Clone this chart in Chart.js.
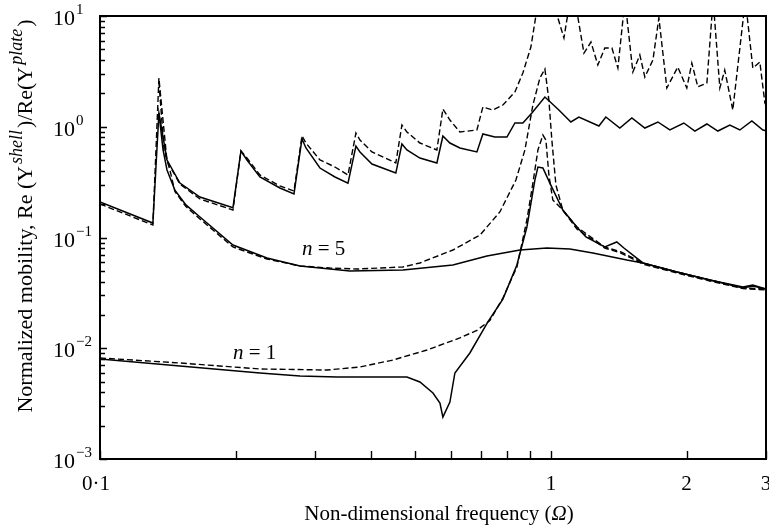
<!DOCTYPE html>
<html>
<head>
<meta charset="utf-8">
<script src="https://cdn.jsdelivr.net/npm/chart.js@4.4.0/dist/chart.umd.min.js"></script>
<style>
  body { margin: 0; background: #fff; }
  #wrap { width: 769px; height: 526px; }
</style>
</head>
<body>
<div id="wrap"><canvas id="chart"></canvas></div>
<script>
// axis ticks
const xTickValues = [0.1, 0.2, 0.3, 0.4, 0.5, 0.6, 0.7, 0.8, 0.9, 1, 2, 3];
const xTickLabels = { 0.1: '0·1', 1: '1', 2: '2', 3: '3' };
const yExponents = [-3, -2, -1, 0, 1];

// total response, solid
const sumSolidW = [0.1, 0.131, 0.1351, 0.1408, 0.1504, 0.1666, 0.1972, 0.2054, 0.2118, 0.2263, 0.2506, 0.2693, 0.2805, 0.2863, 0.3075, 0.332, 0.3548, 0.3695, 0.3772, 0.401, 0.453, 0.4673, 0.4794, 0.5123, 0.5587, 0.5761, 0.5971, 0.6284, 0.6854, 0.7066, 0.751, 0.799, 0.8322, 0.8667, 0.9076, 0.9699, 1.0416, 1.1074, 1.1537, 1.278, 1.324, 1.422, 1.512, 1.616, 1.727, 1.836, 1.972, 2.086, 2.218, 2.346, 2.494, 2.625, 2.791, 2.953, 3.0];
const sumSolidY = [0.209, 0.135, 1.33, 0.501, 0.31, 0.232, 0.186, 0.604, 0.501, 0.352, 0.28, 0.247, 0.775, 0.643, 0.424, 0.352, 0.31, 0.67, 0.592, 0.461, 0.382, 0.699, 0.617, 0.522, 0.471, 0.825, 0.713, 0.643, 0.592, 0.86, 0.808, 0.808, 1.081, 1.081, 1.331, 1.856, 1.416, 1.104, 1.225, 1.016, 1.225, 0.974, 1.2, 0.974, 1.104, 0.935, 1.081, 0.915, 1.059, 0.915, 1.037, 0.935, 1.127, 0.935, 0.92];

// total response, dashed
const sumDashW = [0.1, 0.131, 0.1351, 0.1408, 0.1504, 0.1666, 0.1972, 0.2054, 0.2118, 0.2263, 0.2506, 0.2693, 0.2805, 0.2863, 0.3075, 0.332, 0.3548, 0.3695, 0.3772, 0.401, 0.453, 0.4673, 0.4794, 0.5123, 0.5587, 0.5761, 0.5971, 0.6284, 0.6854, 0.7066, 0.7437, 0.7826, 0.8322, 0.8667, 0.903, 0.9262, 0.95, 1.0, 1.026, 1.069, 1.10, 1.142, 1.184, 1.227, 1.271, 1.317, 1.366, 1.408, 1.46, 1.52, 1.575, 1.616, 1.684, 1.736, 1.808, 1.912, 2.002, 2.054, 2.118, 2.218, 2.29, 2.37, 2.43, 2.532, 2.70, 2.805, 2.907, 2.983, 3.0];
const sumDashY = [0.2007, 0.1297, 2.75, 0.491, 0.304, 0.2227, 0.177, 0.604, 0.522, 0.367, 0.292, 0.263, 0.825, 0.713, 0.501, 0.433, 0.367, 0.878, 0.759, 0.592, 0.471, 1.037, 0.897, 0.713, 0.617, 1.446, 1.15, 0.897, 0.935, 1.507, 1.416, 1.57, 2.06, 3.06, 5.25, 10, 14, 18, 11, 6.33, 13, 11, 4.62, 5.82, 3.61, 5.14, 5.14, 3.39, 14, 3.12, 4.45, 2.81, 4.01, 9.6, 2.24, 3.46, 2.24, 3.76, 2.29, 2.48, 14, 2.24, 3.25, 1.416, 14, 3.39, 3.84, 1.64, 1.57];

// n = 5, solid and dashed
const n5SolidW = [0.1351, 0.138, 0.1408, 0.1466, 0.1551, 0.1666, 0.1972, 0.2346, 0.2777, 0.3583, 0.4697, 0.6063, 0.7214, 0.8537, 0.9797, 1.102, 1.239, 1.474, 1.6, 1.903, 2.252, 2.666, 2.805, 3.0];
const n5SolidY = [1.331, 0.617, 0.407, 0.268, 0.197, 0.1532, 0.0856, 0.0653, 0.0553, 0.0498, 0.0509, 0.0565, 0.0681, 0.0771, 0.0804, 0.0787, 0.0724, 0.0626, 0.0589, 0.0488, 0.0413, 0.035, 0.0365, 0.0343];
const n5DashW = [0.1351, 0.1387, 0.1429, 0.1466, 0.1551, 0.1666, 0.1972, 0.2346, 0.2777, 0.3236, 0.3715, 0.4697, 0.5123, 0.6063, 0.6962, 0.7706, 0.8364, 0.8758, 0.9122, 0.9454, 0.9699, 0.9899, 1.005, 1.026, 1.063, 1.142, 1.317, 1.43, 1.6, 1.903, 2.252, 2.666, 3.0];
const n5DashY = [2.54, 0.617, 0.407, 0.26, 0.19, 0.147, 0.0821, 0.064, 0.0553, 0.053, 0.0519, 0.0542, 0.0589, 0.0771, 0.1053, 0.170, 0.330, 0.617, 1.57, 2.75, 3.32, 1.74, 0.759, 0.298, 0.177, 0.1193, 0.0804, 0.0724, 0.0575, 0.0478, 0.0405, 0.0346, 0.0336];

// n = 1, solid and dashed
const n1SolidW = [0.1, 0.1504, 0.2263, 0.2777, 0.3354, 0.4794, 0.5123, 0.5476, 0.5675, 0.5761, 0.5971, 0.6125, 0.6612, 0.7249, 0.7826, 0.8407, 0.8847, 0.9215, 0.936, 0.96, 0.9949, 1.063, 1.142, 1.196, 1.317, 1.40, 1.452, 1.6, 1.903, 2.252, 2.666, 2.805, 3.0];
const n1SolidY = [0.008, 0.00691, 0.00598, 0.00562, 0.0055, 0.0055, 0.00496, 0.00394, 0.0032, 0.00239, 0.00327, 0.00598, 0.00906, 0.0173, 0.0278, 0.0565, 0.1244, 0.330, 0.433, 0.424, 0.310, 0.177, 0.1244, 0.101, 0.0821, 0.0911, 0.0804, 0.0589, 0.0488, 0.0413, 0.0357, 0.0373, 0.0343];
const n1DashW = [0.1, 0.1504, 0.2263, 0.3187, 0.3772, 0.4465, 0.5311, 0.6284, 0.6854, 0.7324, 0.7826, 0.8407, 0.8847, 0.9122, 0.936, 0.96, 0.975, 0.9899, 1.01, 1.047, 1.142, 1.317, 1.43, 1.6, 1.903, 2.252, 2.666, 3.0];
const n1DashY = [0.00817, 0.00736, 0.0065, 0.00636, 0.00677, 0.00783, 0.00964, 0.0124, 0.0145, 0.0178, 0.0284, 0.0542, 0.1439, 0.310, 0.617, 0.842, 0.759, 0.367, 0.218, 0.1886, 0.1244, 0.0821, 0.074, 0.0589, 0.0488, 0.0413, 0.035, 0.0343];

const SERIF = '"Liberation Serif", "Times New Roman", serif';

function pts(w, y) {
  return w.map((v, i) => ({ x: v, y: y[i] }));
}

function series(w, y, dashed) {
  return {
    data: pts(w, y),
    borderColor: '#000',
    borderWidth: dashed ? 1.4 : 1.5,
    borderDash: dashed ? [6, 3] : [],
    pointRadius: 0,
    tension: 0,
    fill: false
  };
}

// draw a row of text pieces with different fonts / offsets
function runsWidth(ctx, runs) {
  let w = 0;
  runs.forEach(r => { ctx.font = r[1]; w += ctx.measureText(r[0]).width + (r[3] || 0); });
  return w;
}
function drawRuns(ctx, runs, x, y) {
  let cx = x;
  runs.forEach(r => {
    ctx.font = r[1];
    ctx.fillText(r[0], cx, y + (r[2] || 0));
    cx += ctx.measureText(r[0]).width + (r[3] || 0);
  });
}

const decor = {
  id: 'decor',
  afterDraw(chart) {
    const { ctx, chartArea: a, scales } = chart;
    const xs = scales.x, ys = scales.y;
    ctx.save();
    ctx.strokeStyle = '#000';
    ctx.fillStyle = '#000';

    // frame
    ctx.lineWidth = 2;
    ctx.strokeRect(a.left, a.top, a.right - a.left, a.bottom - a.top);

    // inward ticks
    ctx.lineWidth = 1.4;
    ctx.beginPath();
    xTickValues.forEach(v => {
      const px = Math.round(xs.getPixelForValue(v)) + 0.5;
      ctx.moveTo(px, a.bottom);
      ctx.lineTo(px, a.bottom - 8);
    });
    yExponents.forEach(e => {
      for (let m = 1; m <= 9; m++) {
        const v = m * Math.pow(10, e);
        if (v > 10) break;
        const py = Math.round(ys.getPixelForValue(v)) + 0.5;
        ctx.moveTo(a.left, py);
        ctx.lineTo(a.left + (m === 1 ? 7 : 5), py);
      }
    });
    ctx.stroke();

    // x tick labels
    ctx.textAlign = 'center';
    ctx.textBaseline = 'alphabetic';
    ctx.font = '21px ' + SERIF;
    Object.keys(xTickLabels).forEach(k => {
      const v = Number(k);
      const px = xs.getPixelForValue(v) - (v === 0.1 ? 4 : 0);
      ctx.fillText(xTickLabels[k], px, 490);
    });

    // y tick labels 10^e
    yExponents.forEach(e => {
      const py = ys.getPixelForValue(Math.pow(10, e));
      ctx.textAlign = 'right';
      ctx.font = '22px ' + SERIF;
      ctx.fillText('10', 75, py + 9);
      ctx.textAlign = 'left';
      ctx.font = '15px ' + SERIF;
      ctx.fillText(e < 0 ? '\u2212' + (-e) : String(e), 76, py - 2);
    });

    // axis titles
    const body = '22px ' + SERIF;
    const sup = 'italic 18px ' + SERIF;
    ctx.textAlign = 'left';
    const xt = [['Non-dimensional frequency (', '21px ' + SERIF], ['\u03A9', 'italic 21px ' + SERIF], [')', '21px ' + SERIF]];
    drawRuns(ctx, xt, 439 - runsWidth(ctx, xt) / 2, 520);

    const yt = [['Normalized mobility, Re (Y', body, 0, 2], ['shell', sup, -10, 2], [')/Re(Y', body, 0, 2], ['plate', sup, -10, 2], [')', body, 0]];
    ctx.save();
    ctx.translate(32, 216);
    ctx.rotate(-Math.PI / 2);
    drawRuns(ctx, yt, -runsWidth(ctx, yt) / 2, 0);
    ctx.restore();

    // curve labels
    const nl = (txt, x, y) => drawRuns(ctx, [['n', 'italic 21px ' + SERIF], [' = ', '21px ' + SERIF], [txt, '21px ' + SERIF]], x, y);
    nl('5', 302, 255);
    nl('1', 233, 359);

    ctx.restore();
  }
};

new Chart(document.getElementById('chart'), {
  type: 'line',
  data: {
    datasets: [
      series(sumSolidW, sumSolidY, false),
      series(sumDashW, sumDashY, true),
      series(n5SolidW, n5SolidY, false),
      series(n5DashW, n5DashY, true),
      series(n1SolidW, n1SolidY, false),
      series(n1DashW, n1DashY, true)
    ]
  },
  options: {
    responsive: true,
    maintainAspectRatio: false,
    animation: false,
    layout: { padding: { left: 100, top: 16, right: 3, bottom: 67 } },
    plugins: { legend: { display: false }, tooltip: { enabled: false } },
    scales: {
      x: { type: 'logarithmic', min: 0.1, max: 3, display: false },
      y: { type: 'logarithmic', min: 0.001, max: 10, display: false }
    }
  },
  plugins: [decor]
});
</script>
</body>
</html>
